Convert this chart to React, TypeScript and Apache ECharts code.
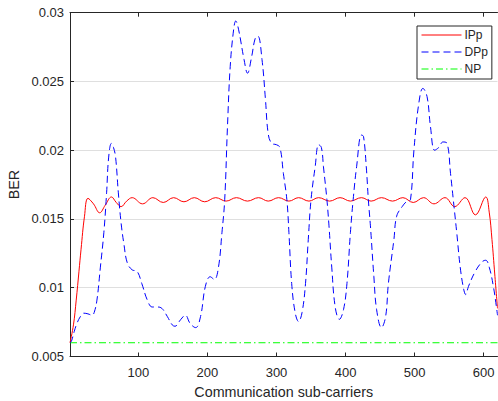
import React, { useEffect, useRef } from "react";
import * as echarts from "echarts";

const seriesNames = ["IPp", "DPp", "NP"];
const xTicks = [100, 200, 300, 400, 500, 600];

const ippX = [1, 6, 10, 14, 17, 22, 27, 35, 44, 52, 61, 68, 75, 83, 91, 106, 121, 136, 151, 166, 181, 196, 212, 227, 242, 258, 274, 288, 303, 318, 332, 347, 361, 377, 392, 407, 423, 437, 452, 468, 483, 498, 513, 528, 544, 558, 573, 588, 603, 608, 612, 616, 620];
const ippY = [0.006, 0.0073, 0.0091, 0.0112, 0.0128, 0.0152, 0.0165, 0.0161, 0.01545, 0.016, 0.0166, 0.0162, 0.0159, 0.0163, 0.01655, 0.0161, 0.01655, 0.0162, 0.01655, 0.01625, 0.01655, 0.01625, 0.01655, 0.0163, 0.01655, 0.0163, 0.01655, 0.0163, 0.01655, 0.0163, 0.01655, 0.0163, 0.01655, 0.0163, 0.01655, 0.0163, 0.01655, 0.0163, 0.01655, 0.0163, 0.01655, 0.0162, 0.01655, 0.0161, 0.01655, 0.0159, 0.01655, 0.0153, 0.0166, 0.0155, 0.0135, 0.011, 0.0085];

const dppX = [1, 3, 7, 11, 16, 21, 27, 33, 36, 40, 45, 50, 54, 57, 61, 64, 67, 71, 75, 79, 84, 91, 98, 105, 113, 120, 127, 134, 142, 149, 153, 161, 168, 175, 183, 190, 197, 204, 210, 216, 221, 225, 229, 233, 238, 241, 245, 253, 258, 264, 269, 273, 279, 284, 288, 293, 300, 305, 310, 315, 318, 322, 327, 332, 337, 342, 346, 350, 356, 361, 365, 368, 373, 376, 380, 385, 391, 397, 402, 407, 411, 416, 423, 426, 430, 433, 436, 441, 445, 452, 458, 462, 470, 474, 482, 489, 494, 499, 506, 512, 518, 523, 529, 535, 541, 547, 552, 556, 561, 566, 571, 574, 578, 588, 598, 603, 608, 614, 619, 620];
const dppY = [0.006, 0.0061, 0.0068, 0.0074, 0.0079, 0.00815, 0.0081, 0.008, 0.0082, 0.0091, 0.0115, 0.014, 0.0169, 0.0195, 0.0205, 0.0202, 0.0195, 0.0169, 0.0147, 0.0132, 0.0118, 0.0113, 0.0112, 0.0103, 0.0091, 0.0086, 0.0086, 0.0085, 0.0079, 0.0073, 0.0072, 0.00767, 0.008, 0.0074, 0.0071, 0.0079, 0.0101, 0.0108, 0.0106, 0.0115, 0.014, 0.0164, 0.0217, 0.0261, 0.0288, 0.0294, 0.0288, 0.0266, 0.0256, 0.0268, 0.0281, 0.0283, 0.0266, 0.0237, 0.0212, 0.0205, 0.0204, 0.0202, 0.0183, 0.0164, 0.014, 0.0103, 0.0082, 0.00754, 0.0082, 0.0103, 0.0135, 0.0164, 0.0188, 0.0204, 0.0202, 0.0188, 0.0164, 0.0145, 0.0115, 0.0086, 0.0077, 0.0084, 0.0103, 0.014, 0.0164, 0.0188, 0.0211, 0.021, 0.0188, 0.0164, 0.0145, 0.0108, 0.0084, 0.0071, 0.0079, 0.0103, 0.0135, 0.0152, 0.0159, 0.0163, 0.0164, 0.02, 0.0234, 0.0245, 0.0239, 0.0217, 0.02, 0.0202, 0.0206, 0.0205, 0.0183, 0.0164, 0.014, 0.0115, 0.0099, 0.0095, 0.0101, 0.0112, 0.0119, 0.012, 0.0115, 0.0101, 0.0084, 0.008];

const npX = [1, 620];
const npY = [0.006, 0.006];

const FONT = "'Liberation Sans', Arial, Helvetica, sans-serif";
const INK = "#262626";

function pairs(xs: number[], ys: number[]) {
  return xs.map((x, i) => [x, ys[i]]);
}

export default function App() {
  const ref = useRef<HTMLDivElement>(null);
  useEffect(() => {
    if (!ref.current) return;
    const chart = echarts.init(ref.current, undefined, { renderer: "svg" });
    const axisCommon = {
      type: "value" as const,
      min: 1,
      max: 620,
    };
    chart.setOption({
      animation: false,
      backgroundColor: "#ffffff",
      textStyle: { fontFamily: FONT },
      grid: { left: 70, right: 0.5, top: 12.7, bottom: 44.5, outerBoundsMode: "none" },
      legend: {
        orient: "vertical",
        left: 417,
        top: 26,
        padding: [3, 4, 4, 4],
        itemWidth: 40,
        itemHeight: 12,
        itemGap: 5,
        backgroundColor: "#ffffff",
        borderColor: INK,
        borderWidth: 1,
        borderRadius: 0,
        itemStyle: { opacity: 0 },
        lineStyle: { width: 1 },
        textStyle: { fontFamily: FONT, fontSize: 12, color: INK, lineHeight: 12, padding: [0, 0, 0, -2] },
        data: seriesNames,
      },
      xAxis: [
        {
          ...axisCommon,
          position: "bottom",
          name: "Communication sub-carriers",
          nameLocation: "middle",
          nameGap: 28,
          nameTextStyle: { fontFamily: FONT, fontSize: 14.3, color: INK },
          axisLine: { show: true, onZero: false, lineStyle: { color: INK, width: 1 } },
          axisTick: { show: true, inside: true, length: 4, customValues: xTicks, lineStyle: { color: INK } },
          axisLabel: { customValues: xTicks, fontFamily: FONT, fontSize: 13, color: INK, margin: 9 },
          splitLine: { show: false },
        },
        {
          ...axisCommon,
          position: "top",
          axisLine: { show: true, onZero: false, lineStyle: { color: INK, width: 1 } },
          axisTick: { show: true, inside: true, length: 4, customValues: xTicks, lineStyle: { color: INK } },
          axisLabel: { show: false },
          splitLine: { show: false },
        },
      ],
      yAxis: {
        type: "value",
        min: 0.005,
        max: 0.03,
        interval: 0.005,
        name: "BER",
        nameLocation: "middle",
        nameGap: 43,
        nameTextStyle: { fontFamily: FONT, fontSize: 14.3, color: INK },
        axisLine: { show: true, onZero: false, lineStyle: { color: INK, width: 1 } },
        axisTick: { show: true, inside: true, length: 4, lineStyle: { color: INK } },
        axisLabel: {
          fontFamily: FONT,
          fontSize: 13,
          color: INK,
          margin: 6,
          formatter: (v: number) => String(parseFloat(v.toFixed(4))),
        },
        splitLine: { show: true, lineStyle: { color: "#dfdfdf", width: 1 } },
      },
      series: [
        {
          name: seriesNames[0],
          type: "line",
          data: pairs(ippX, ippY),
          showSymbol: false,
          symbol: "none",
          smooth: 0.4,
          lineStyle: { color: "#ff0000", width: 1 },
          itemStyle: { color: "#ff0000" },
          z: 3,
        },
        {
          name: seriesNames[1],
          type: "line",
          data: pairs(dppX, dppY),
          showSymbol: false,
          symbol: "none",
          smooth: 0.4,
          lineStyle: { color: "#0000ff", width: 1, type: [7, 4] },
          itemStyle: { color: "#0000ff" },
          z: 4,
        },
        {
          name: seriesNames[2],
          type: "line",
          data: pairs(npX, npY),
          showSymbol: false,
          symbol: "none",
          lineStyle: { color: "#00ff00", width: 1, type: [7, 3, 1.5, 3] },
          itemStyle: { color: "#00ff00" },
          z: 2,
        },
      ],
    });
    return () => chart.dispose();
  }, []);
  return (
    <div
      ref={ref}
      style={{ position: "absolute", left: 0, top: 0, width: 498, height: 401, background: "#fff" }}
    />
  );
}
